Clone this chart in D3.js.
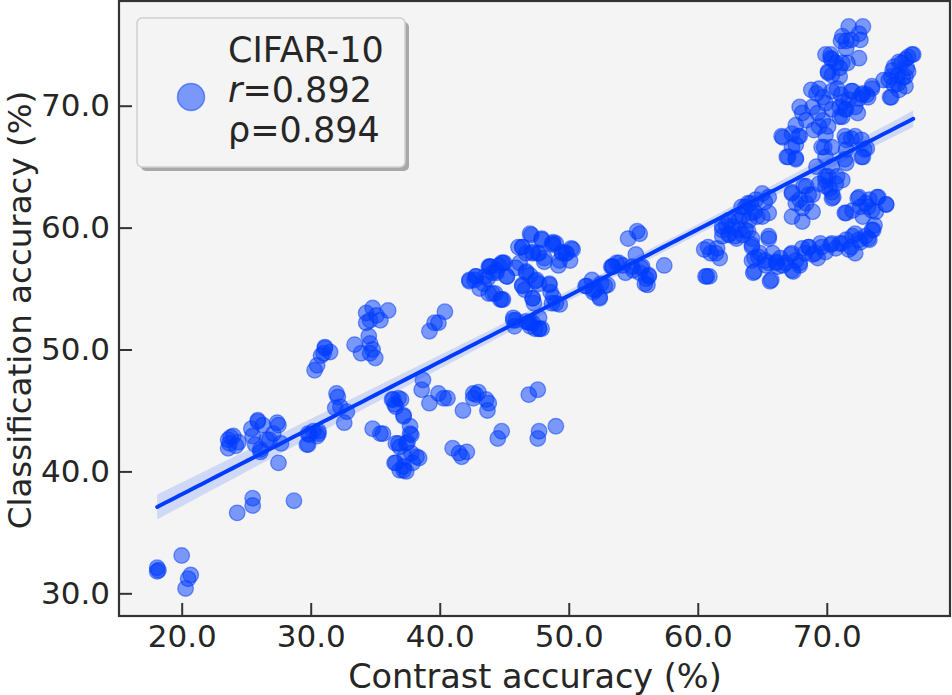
<!DOCTYPE html>
<html>
<head>
<meta charset="utf-8">
<script src="https://cdn.jsdelivr.net/npm/d3@7"></script>
<style>
  body { margin: 0; background: #ffffff; }
  svg { display: block; font-family: "DejaVu Sans", sans-serif; }
</style>
</head>
<body>
<svg id="chart" width="952" height="695"></svg>
<script>
// contrast accuracy (%), classification accuracy (%)
var points = [
  [18.1,32.1],[18.1,31.8],[18.2,31.9],[20.0,33.1],[20.7,31.5],[20.5,31.2],[20.3,30.4],[24.3,36.6],[25.5,37.8],[25.5,37.2],[28.7,37.6],[27.5,40.7],
  [23.6,42.6],[23.6,41.9],[24.0,42.9],[23.7,42.3],[24.4,42.4],[25.4,43.5],[25.5,42.9],[25.9,44.1],[26.3,43.8],[25.7,42.2],[26.1,41.6],[26.6,42.6],
  [27.1,43.1],[27.5,43.8],[27.7,42.3],[29.8,42.2],[29.8,43.1],[30.6,43.3],[30.5,42.9],[30.2,43.3],[30.6,43.1],[29.7,42.2],[29.9,43.0],[25.9,44.2],
  [27.4,44.0],[26.8,42.6],[26.1,41.8],[23.8,42.8],[24.2,42.1],
  [32.0,46.4],[32.1,46.1],[31.9,45.2],[32.3,45.3],[32.8,44.9],[32.6,44.0],
  [30.3,48.3],[30.5,48.7],[31.0,49.7],[31.5,49.8],[31.1,50.1],[31.1,50.2],[30.8,49.5],
  [34.3,53.0],[34.6,52.4],[34.8,53.4],[35.1,52.8],[36.0,53.2],[34.3,52.2],[35.4,52.4],[34.5,51.1],[34.6,50.5],[33.4,50.4],[33.9,49.7],[34.6,49.7],
  [35.0,49.3],[34.8,50.0],
  [34.8,43.5],[35.4,43.1],[35.6,43.1],
  [36.4,45.9],[36.8,46.0],[36.5,45.5],[37.0,45.9],[37.2,44.6],[37.7,43.7],[37.7,43.1],[36.6,42.3],[36.9,42.0],[37.4,42.3],[37.8,41.5],[38.2,41.2],
  [38.4,41.1],[36.6,40.7],[37.2,40.4],[36.9,40.1],[37.4,40.0],[37.9,40.7],[36.3,45.9],[36.6,45.3],[37.2,44.5],[37.8,43.0],[37.5,42.4],[36.8,42.3],
  [37.3,41.2],[36.5,40.7],[37.2,40.1],
  [38.7,47.5],[38.6,46.7],[39.2,45.6],[39.9,46.4],[40.3,46.0],[40.6,46.0],[41.8,45.0],[42.6,46.4],[42.6,46.0],
  [41.0,41.9],[41.5,41.5],[42.1,41.6],[41.7,41.2],
  [42.8,46.3],[43.0,46.5],[43.6,45.9],[43.8,45.6],[43.7,45.0],[46.9,46.3],[47.6,46.7],[44.8,43.3],[44.5,42.7],[47.7,43.3],[47.6,42.7],[49.0,43.7],
  [39.2,51.5],[39.6,52.2],[39.9,52.2],[40.4,53.1],
  [42.3,55.6],[42.7,55.7],[43.1,55.0],[43.9,56.8],[44.1,56.3],[44.6,56.9],[45.0,57.1],[45.2,56.0],[44.3,54.6],[44.8,54.1],[43.7,55.8],[43.5,56.0],
  [44.4,56.5],[43.4,55.4],[42.8,56.0],[43.8,56.8],[44.8,57.1],[43.8,54.6],[44.7,54.1],
  [42.3,55.7],[42.8,56.0],[43.9,56.8],[44.4,56.3],[44.9,57.1],[45.2,56.0],[44.1,54.6],[44.9,54.1],
  [47.1,59.4],[47.9,59.1],[46.4,58.4],[47.2,58.0],[46.7,57.9],[47.6,57.9],[48.8,58.8],[49.0,58.7],[49.5,58.0],[50.2,58.3],[50.1,57.3],[49.2,56.9],
  [48.1,57.2],[46.2,57.1],[45.9,56.7],[46.7,56.4],[47.0,56.1],[47.4,55.6],[47.7,55.4],[46.4,55.3],[46.6,54.9],[47.2,54.2],[48.5,55.3],[48.6,54.7],
  [48.8,54.3],[49.3,53.7],[48.1,57.5],[49.8,57.9],[46.1,58.4],[47.0,59.5],[47.9,59.0],[48.7,58.7],[49.5,57.9],[50.3,58.2],[47.2,57.9],[46.4,55.2],
  [47.3,53.8],[48.7,53.8],
  [46.4,58.4],[47.7,57.9],[48.8,58.6],[49.8,57.9],[49.3,57.3],[46.7,56.3],[47.5,55.7],[47.2,54.2],[48.5,55.4],[49.0,53.8],
  [45.7,52.6],[45.8,51.9],[46.7,52.3],[47.0,51.9],[47.2,52.2],[47.4,51.7],[47.9,51.7],[47.7,52.6],[45.7,52.4],[46.9,52.2],[47.7,51.7],
  [45.9,52.4],[47.0,52.2],[47.7,51.7],
  [51.4,55.2],[51.9,54.7],[52.4,54.2],[52.5,55.4],[53.0,55.3],[53.3,56.8],[53.7,57.1],[54.2,56.9],[54.6,59.1],[55.3,59.7],[55.5,59.5],[55.2,57.8],
  [55.0,56.5],[55.5,56.3],[55.6,56.7],[56.0,55.8],[56.1,55.3],[56.2,56.1],[57.4,56.9],[54.4,56.3],[51.8,55.7],[52.1,54.9],[51.3,55.2],[52.8,55.2],
  [53.4,56.8],[53.9,57.1],[54.9,56.8],[55.7,56.8],[56.2,56.0],[55.9,55.4],
  [52.4,54.3],[51.9,54.9],[53.4,56.8],
  [60.5,58.2],[61.0,57.9],[61.5,58.3],[61.7,57.5],[60.6,56.0],[60.9,56.0],
  [61.9,59.8],[62.2,60.2],[62.4,59.4],[63.0,59.1],[62.7,60.1],[63.2,60.6],[63.5,61.0],[63.7,61.7],[64.1,62.0],[64.4,61.3],[64.6,60.9],[64.0,60.6],
  [65.2,62.1],[65.5,61.2],[65.5,62.5],[63.2,59.8],[63.5,59.4],
  [63.9,59.7],[64.2,59.1],[64.2,58.6],[64.4,57.5],[64.8,57.9],[64.4,56.4],[65.2,57.3],[65.3,56.9],[65.5,59.1],[65.7,55.7],[65.8,57.9],[66.1,57.2],
  [66.2,56.8],[66.4,57.5],[66.6,56.9],[67.2,57.8],[67.3,56.5],[67.9,56.9],[67.6,57.3],
  [68.1,58.3],[68.6,58.4],[68.9,57.8],[69.3,57.5],[69.5,58.7],[69.9,58.0],[70.3,58.6],[70.7,58.3],[71.0,58.7],[71.5,59.0],[72.0,59.3],[71.7,58.2],
  [72.2,59.5],[72.6,58.8],[73.0,59.3],[73.3,59.0],[73.5,59.8],[73.7,60.2],
  [71.5,61.2],[72.0,61.4],[72.4,62.4],[72.6,61.7],[73.0,62.0],[73.3,62.3],[73.5,61.4],[73.9,62.5],[74.6,61.9],[72.8,60.9],[73.8,61.3],
  [67.3,62.8],[67.6,62.0],[67.9,62.3],[68.1,61.6],[68.4,62.0],[67.3,60.9],[68.1,60.5],[68.9,61.3],[68.2,63.4],[68.9,62.7],[70.4,62.4],[70.2,63.2],
  [70.7,63.6],[69.9,63.9],
  [71.7,76.5],[72.8,76.5],[71.2,75.7],[71.5,75.3],[71.9,75.4],[72.5,75.9],[72.6,75.4],[71.5,74.7],[71.1,75.3],[70.3,74.2],[70.4,73.8],[70.7,73.5],
  [71.6,73.5],[72.5,73.9],[70.1,72.7],[70.4,72.5],[71.0,72.4],[71.0,73.1],[69.9,74.2],[70.3,73.9],[71.2,73.5],[70.1,72.8],
  [74.8,72.1],[75.1,72.9],[75.6,73.6],[76.1,73.8],[76.6,74.2],[76.2,73.1],[75.2,71.7],[75.6,71.3],[75.0,70.7],[76.1,72.4],[75.5,72.5],[75.9,72.3],
  [74.4,72.1],[74.9,70.7],[75.2,73.2],[75.8,73.5],[76.3,74.0],[76.7,74.2],[76.1,71.6],[75.5,71.8],[75.0,72.4],[76.3,72.8],
  [67.9,69.9],[68.1,69.4],[68.4,68.8],[68.8,71.3],[69.2,71.0],[69.4,71.4],[69.7,70.7],[69.9,70.2],[68.9,69.9],[69.3,69.4],[69.7,68.8],[70.1,68.3],
  [69.4,68.3],[69.0,68.0],[69.9,67.6],[70.4,71.2],[70.8,71.4],[71.1,70.9],[71.0,69.9],[71.3,70.3],[71.5,69.7],[71.0,69.1],[72.0,71.2],[72.2,69.9],
  [72.4,69.4],[72.8,71.0],[73.5,71.6],[73.1,70.9],[72.5,70.6],[71.7,70.5],[70.4,69.7],[67.6,68.4],[67.3,67.7],[66.6,67.4],[67.9,67.5],[67.6,66.8],
  [67.0,65.8],[67.6,65.7],[69.8,66.6],[70.4,66.6],[71.5,67.2],[72.2,67.5],[72.9,66.4],[72.8,65.8],[71.5,66.4],[69.9,65.8],[69.2,65.0],[70.4,65.0],
  [69.9,64.2],[70.8,64.2],[69.4,63.6],[70.4,62.9],[68.4,63.4],[67.3,62.9],[68.6,62.7],[71.5,65.3],
  [73.5,71.4],[72.7,70.9],[73.2,70.7],[71.9,71.2],[71.4,69.7],[71.2,69.1],[69.6,66.6],[71.4,67.5],[71.9,67.3],[72.7,67.2],[73.1,66.5],[72.7,65.8],
  [66.5,67.5],[66.9,65.8],[67.6,65.6],[67.3,66.6],[67.8,67.5],[70.1,64.2],[70.5,62.5],[71.2,63.9],[71.4,65.6],[69.9,63.4],
  [61.9,60.1],[62.4,60.6],[62.9,60.9],[63.4,61.7],[63.9,62.0],[64.5,62.3],[65.0,62.8],[64.2,61.2],[65.0,60.9],[62.4,59.5],[62.9,59.3],[63.7,59.8],
  [61.9,59.3],[60.8,58.4],[61.4,57.9],[60.7,56.0],[65.5,59.3],
  [71.4,61.2],[72.5,62.5],[73.2,61.7],[74.0,62.5],[74.6,61.9],[73.6,59.8],[73.2,59.1],[72.5,59.0],[71.9,58.4],[71.2,58.7],[70.4,58.7],[69.6,58.4],
  [69.1,57.9],[68.6,58.4],[68.3,57.9],[72.2,57.9],
  [64.2,57.3],[64.7,57.6],[65.5,57.1],[66.1,57.1],[66.8,57.1],[67.3,57.9],[67.9,57.1],[67.4,56.4],[65.6,55.6],[64.3,56.3],[64.2,58.4]
];

var xTicks = [20, 30, 40, 50, 60, 70],
    yTicks = [30, 40, 50, 60, 70];

var legendLines = ["CIFAR-10", "r=0.892", "ρ=0.894"];

var plotLeft = 119, plotRight = 950, plotTop = 1, plotBottom = 616;

var blue = "rgb(0,60,255)";

var svg = d3.select("#chart");

var x = d3.scaleLinear().domain([15.14, 79.55]).range([plotLeft, plotRight]);
var y = d3.scaleLinear().domain([28.14, 78.59]).range([plotBottom, plotTop]);

// plot background
svg.append("rect")
    .attr("x", plotLeft).attr("y", plotTop)
    .attr("width", plotRight - plotLeft).attr("height", plotBottom - plotTop)
    .attr("fill", "#f4f4f4");

// least squares fit + 95% band
var n = points.length,
    xbar = d3.mean(points, function (d) { return d[0]; }),
    ybar = d3.mean(points, function (d) { return d[1]; }),
    sxx = d3.sum(points, function (d) { return (d[0] - xbar) * (d[0] - xbar); }),
    sxy = d3.sum(points, function (d) { return (d[0] - xbar) * (d[1] - ybar); }),
    slope = sxy / sxx,
    intercept = ybar - slope * xbar,
    sse = d3.sum(points, function (d) { var e = d[1] - (intercept + slope * d[0]); return e * e; }),
    s = Math.sqrt(sse / (n - 2));

var xExtent = d3.extent(points, function (d) { return d[0]; });
var grid = d3.range(0, 101).map(function (i) {
    var xv = xExtent[0] + (xExtent[1] - xExtent[0]) * i / 100,
        yv = intercept + slope * xv,
        se = s * Math.sqrt(1 / n + (xv - xbar) * (xv - xbar) / sxx);
    return { x: xv, y: yv, lo: yv - 1.96 * se, hi: yv + 1.96 * se };
});

var plot = svg.append("g");

plot.selectAll("circle.pt")
    .data(points)
    .enter()
    .append("circle")
    .attr("class", "pt")
    .attr("cx", function (d) { return x(d[0]); })
    .attr("cy", function (d) { return y(d[1]); })
    .attr("r", 7.8)
    .attr("fill", blue)
    .attr("fill-opacity", 0.5)
    .attr("stroke", blue)
    .attr("stroke-opacity", 0.5)
    .attr("stroke-width", 1.3);

plot.append("path")
    .datum(grid)
    .attr("d", d3.area()
        .x(function (d) { return x(d.x); })
        .y0(function (d) { return y(d.lo); })
        .y1(function (d) { return y(d.hi); }))
    .attr("fill", blue)
    .attr("fill-opacity", 0.15);

plot.append("path")
    .datum(grid)
    .attr("d", d3.line()
        .x(function (d) { return x(d.x); })
        .y(function (d) { return y(d.y); }))
    .attr("fill", "none")
    .attr("stroke", blue)
    .attr("stroke-width", 4)
    .attr("stroke-linecap", "round");

// axes, ticks pointing inward
var xAxis = svg.append("g")
    .attr("transform", "translate(0," + plotBottom + ")")
    .call(d3.axisBottom(x).tickValues(xTicks).tickFormat(d3.format(".1f")).tickSizeInner(-13).tickSizeOuter(0).tickPadding(9));

var yAxis = svg.append("g")
    .attr("transform", "translate(" + plotLeft + ",0)")
    .call(d3.axisLeft(y).tickValues(yTicks).tickFormat(d3.format(".1f")).tickSizeInner(-13).tickSizeOuter(0).tickPadding(9));

[xAxis, yAxis].forEach(function (g) {
    g.select(".domain").remove();
    g.selectAll(".tick line").attr("stroke", "#333").attr("stroke-width", 2);
    g.selectAll(".tick text")
        .attr("fill", "#262626")
        .attr("font-size", 31)
        .attr("font-family", "DejaVu Sans");
});

// frame
svg.append("rect")
    .attr("x", plotLeft).attr("y", plotTop)
    .attr("width", plotRight - plotLeft).attr("height", plotBottom - plotTop)
    .attr("fill", "none")
    .attr("stroke", "#333")
    .attr("stroke-width", 2.2);

// axis labels
svg.append("text")
    .attr("x", 535)
    .attr("y", 688)
    .attr("text-anchor", "middle")
    .attr("font-size", 33.5)
    .attr("fill", "#262626")
    .text("Contrast accuracy (%)");

svg.append("text")
    .attr("transform", "translate(31,310) rotate(-90)")
    .attr("text-anchor", "middle")
    .attr("font-size", 32.5)
    .attr("fill", "#262626")
    .text("Classification accuracy (%)");

// legend
var legend = svg.append("g");
legend.append("rect")
    .attr("x", 141).attr("y", 22)
    .attr("width", 268).attr("height", 149)
    .attr("rx", 5)
    .attr("fill", "#888")
    .attr("fill-opacity", 0.7);
legend.append("rect")
    .attr("x", 137).attr("y", 18)
    .attr("width", 268).attr("height", 149)
    .attr("rx", 5)
    .attr("fill", "#f4f4f4")
    .attr("stroke", "#cfcfcf")
    .attr("stroke-width", 1.5);
legend.append("circle")
    .attr("cx", 191).attr("cy", 97)
    .attr("r", 13.5)
    .attr("fill", blue)
    .attr("fill-opacity", 0.5)
    .attr("stroke", blue)
    .attr("stroke-opacity", 0.5)
    .attr("stroke-width", 1.5);

legend.selectAll("text")
    .data(legendLines)
    .enter()
    .append("text")
    .attr("x", 228)
    .attr("y", function (d, i) { return 62 + i * 40; })
    .attr("font-size", 35)
    .attr("fill", "#262626")
    .each(function (d) {
        var t = d3.select(this);
        if (d.charAt(0) === "r") {
            t.append("tspan").attr("font-style", "italic").text("r");
            t.append("tspan").text(d.slice(1));
        } else {
            t.text(d);
        }
    });
</script>
</body>
</html>
